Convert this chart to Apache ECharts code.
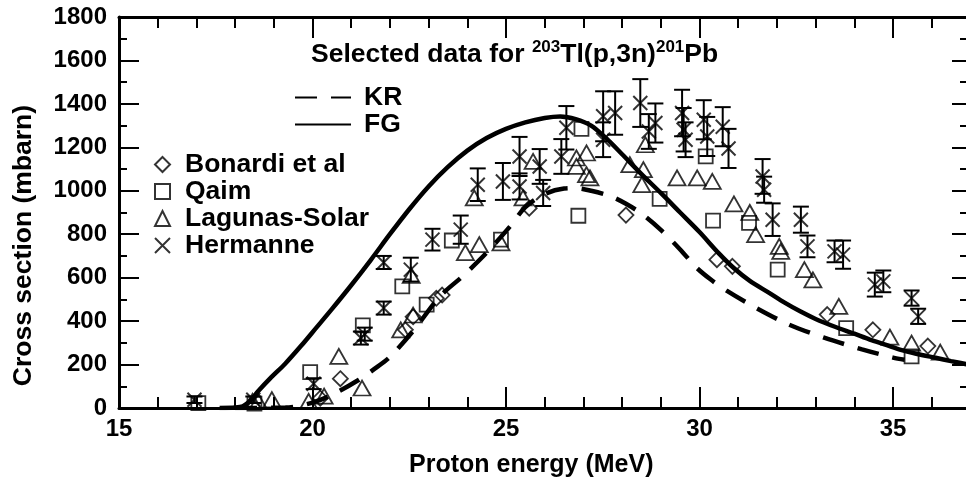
<!DOCTYPE html>
<html>
<head>
<meta charset="utf-8">
<script src="https://cdn.jsdelivr.net/npm/echarts@6/dist/echarts.min.js"></script>
<style>html,body{margin:0;padding:0;background:#fff}#c{width:966px;height:483px}</style>
</head>
<body>
<div id="c"></div>
<script>
// ---------- data ----------
const xTickLabels = [15, 20, 25, 30, 35];
const yTickLabels = [0, 200, 400, 600, 800, 1000, 1200, 1400, 1600, 1800];

const krE = [18.0, 19.3, 19.6, 20.0, 20.5, 21.2, 21.6, 22.0, 22.6, 23.3, 23.9, 24.5, 25.1, 25.5, 26.0, 26.5, 26.8, 27.2, 27.7, 28.1, 28.5, 29.0, 29.5, 29.9, 30.3, 30.7, 31.4, 32.3, 33.2, 34.2, 35.0, 35.3];
const krS = [0, 2, 8, 25, 60, 130, 180, 235, 355, 515, 610, 715, 835, 925, 985, 1010, 1012, 1000, 975, 940, 895, 820, 730, 650, 590, 540, 467, 385, 325, 270, 232, 222];

const fgE = [17.6, 18.0, 18.2, 18.4, 18.6, 18.9, 19.3, 19.7, 20.1, 20.5, 21.0, 21.5, 22.0, 22.5, 23.0, 23.5, 24.0, 24.5, 25.0, 25.5, 26.0, 26.4, 26.8, 27.2, 27.6, 28.0, 28.5, 29.0, 29.5, 30.0, 30.5, 30.9, 31.3, 31.8, 32.2, 32.6, 33.0, 33.5, 34.0, 34.4, 34.8, 35.2, 35.6, 36.1, 36.5, 37.0];
const fgS = [0, 2, 8, 35, 78, 135, 205, 285, 370, 455, 565, 680, 800, 915, 1020, 1110, 1185, 1243, 1285, 1315, 1335, 1342, 1330, 1300, 1240, 1168, 1077, 990, 900, 810, 712, 642, 585, 530, 485, 445, 410, 374, 342, 315, 292, 268, 250, 231, 216, 198];

const bonardiE = [20.2, 20.72, 22.4, 22.6, 23.2, 23.35, 25.6, 28.1, 30.45, 30.85, 33.3, 34.48, 35.9];
const bonardiS = [45, 135, 360, 420, 505, 520, 920, 888, 683, 652, 430, 360, 285];

const qaimE = [17.05, 18.5, 19.94, 21.3, 22.32, 22.95, 23.6, 24.87, 26.87, 26.95, 28.97, 30.16, 30.35, 31.28, 32.02, 33.79, 35.48];
const qaimS = [22, 20, 165, 380, 560, 476, 771, 775, 885, 1285, 963, 1158, 863, 852, 637, 368, 238];

const lagunasE = [18.45, 18.6, 18.95, 19.9, 20.3, 20.68, 21.28, 22.28, 22.55, 22.6, 23.95, 24.18, 24.31, 24.87, 25.44, 25.7, 26.82, 26.82, 27.08, 27.08, 27.17, 28.2, 28.51, 28.55, 28.6, 29.42, 29.94, 30.33, 30.89, 31.3, 31.45, 32.06, 32.1, 32.71, 32.93, 33.6, 34.92, 35.48, 36.22];
const lagunasS = [30, 30, 38, 30, 55, 238, 92, 360, 610, 428, 715, 967, 752, 760, 967, 1135, 1151, 1112, 1074, 1174, 1059, 1120, 1028, 1097, 1212, 1059, 1059, 1043, 940, 900, 798, 744, 721, 637, 590, 468, 326, 299, 257];

const hermanneE = [16.95, 18.47, 20.03, 21.25, 21.35, 21.84, 21.84, 22.54, 23.1, 23.83, 24.27, 24.92, 25.35, 25.35, 25.87, 25.96, 26.43, 26.56, 27.51, 27.82, 27.51, 28.47, 28.86, 28.69, 29.55, 29.59, 29.64, 30.11, 30.2, 30.6, 30.75, 31.63, 31.67, 31.89, 32.62, 32.79, 33.49, 33.71, 34.53, 34.75, 35.48, 35.65];
const hermanneS = [38, 38, 112, 322, 340, 460, 670, 637, 775, 821, 1028, 1043, 1158, 1020, 1112, 990, 1158, 1290, 1343, 1358, 1235, 1404, 1312, 1273, 1358, 1281, 1235, 1327, 1250, 1295, 1195, 1066, 1005, 867, 867, 744, 721, 706, 568, 583, 506, 422];
const hermanneErr = [15, 15, 25, 30, 30, 30, 30, 55, 50, 65, 75, 85, 90, 60, 80, 60, 80, 100, 115, 100, 80, 110, 90, 80, 107, 100, 80, 90, 90, 90, 90, 80, 60, 75, 60, 50, 50, 65, 55, 50, 35, 35];

// ---------- chart ----------
const F = 'Liberation Sans, Arial, Helvetica, sans-serif';
const zip = (a, b) => a.map((v, i) => [v, b[i]]);
const black = '#000';
const openStyle = { color: 'rgba(255,255,255,0)', borderColor: black, borderWidth: 1.8 };

const chart = echarts.init(document.getElementById('c'), null, { renderer: 'canvas' });

const xBase = {
  type: 'value', min: 15, max: 40, interval: 5,
  axisLine: { show: true, onZero: false, lineStyle: { color: black, width: 3 } },
  splitLine: { show: false },
  minorTick: { show: true, splitNumber: 5, length: 11, lineStyle: { color: black, width: 2 } },
  axisTick: { show: true, inside: true, length: 21, lineStyle: { color: black, width: 2 } }
};
const yBase = {
  type: 'value', min: 0, max: 1800, interval: 200,
  axisLine: { show: true, onZero: false, lineStyle: { color: black, width: 3 } },
  splitLine: { show: false },
  minorTick: { show: true, splitNumber: 2, length: 8, lineStyle: { color: black, width: 2 } },
  axisTick: { show: true, inside: true, length: 20, lineStyle: { color: black, width: 2 } }
};

const option = {
  backgroundColor: '#fff',
  animation: false,
  grid: { left: 119, top: 17, width: 967.5, height: 391, containLabel: false, outerBoundsMode: 'none' },
  xAxis: [
    Object.assign({}, xBase, {
      position: 'bottom',
      axisLabel: {
        fontFamily: F, fontSize: 24, fontWeight: 'bold', color: black, margin: 9,
        formatter: v => (xTickLabels.indexOf(v) >= 0 ? String(v) : '')
      }
    }),
    Object.assign({}, xBase, { position: 'top', axisLabel: { show: false } })
  ],
  yAxis: [
    Object.assign({}, yBase, {
      position: 'left',
      name: 'Cross section (mbarn)', nameLocation: 'middle', nameGap: 82,
      nameTextStyle: { fontFamily: F, fontSize: 26.5, fontWeight: 'bold', color: black, padding: [0, 66, 0, 0] },
      axisLabel: {
        fontFamily: F, fontSize: 24, fontWeight: 'bold', color: black, margin: 12,
        formatter: v => (yTickLabels.indexOf(v) >= 0 ? String(v) : '')
      }
    }),
    Object.assign({}, yBase, {
      position: 'right', offset: -118.5, axisLabel: { show: false },
      axisTick: { show: true, inside: true, length: 16, lineStyle: { color: black, width: 2 } }
    })
  ],
  legend: [
    {
      data: ['KR', 'FG'], orient: 'vertical', left: 294, top: 84,
      itemWidth: 56, itemHeight: 6, itemGap: 0, padding: 0,
      itemStyle: { color: 'rgba(0,0,0,0)', borderWidth: 0, opacity: 0 },
      textStyle: { fontFamily: F, fontSize: 26.5, fontWeight: 'bold', color: black, lineHeight: 23.5, padding: [0, 0, 0, 8] },
      selectedMode: false
    },
    {
      data: ['Bonardi et al', 'Qaim', 'Lagunas-Solar', 'Hermanne'], orient: 'vertical', left: 154, top: 151,
      itemWidth: 15, itemHeight: 15, itemGap: 0, padding: 0,
      textStyle: { fontFamily: F, fontSize: 26.5, fontWeight: 'bold', color: black, lineHeight: 27, padding: [0, 0, 0, 10] },
      selectedMode: false
    }
  ],
  graphic: [
    {
      type: 'text', left: 311, top: 39, silent: true,
      style: {
        text: '{a|Selected data for }{s|203}{a|Tl(p,3n)}{s|201}{a|Pb}',
        rich: {
          a: { fontFamily: F, fontSize: 26.5, fontWeight: 'bold', fill: black, lineHeight: 31 },
          s: { fontFamily: F, fontSize: 17, fontWeight: 'bold', fill: black, lineHeight: 19, verticalAlign: 'top' }
        }
      }
    },
    {
      type: 'text', left: 409, top: 453, silent: true,
      style: { text: 'Proton energy (MeV)', fontFamily: F, fontSize: 25, fontWeight: 'bold', fill: black }
    }
  ],
  series: [
    {
      name: 'KR', type: 'line', data: zip(krE, krS), smooth: 0.3, symbol: 'none',
      lineStyle: { color: black, width: 4.5, type: [22, 14] }, itemStyle: { color: black }, z: 3
    },
    {
      name: 'FG', type: 'line', data: zip(fgE, fgS), smooth: 0.3, symbol: 'none',
      lineStyle: { color: black, width: 4.5, type: 'solid' }, itemStyle: { color: black }, z: 3
    },
    {
      name: 'Bonardi et al', type: 'scatter', data: zip(bonardiE, bonardiS),
      symbol: 'diamond', symbolSize: 15, itemStyle: openStyle, z: 4
    },
    {
      name: 'Qaim', type: 'scatter', data: zip(qaimE, qaimS),
      symbol: 'rect', symbolSize: 14, itemStyle: openStyle, z: 4
    },
    {
      name: 'Lagunas-Solar', type: 'scatter', data: zip(lagunasE, lagunasS),
      symbol: 'triangle', symbolSize: [17, 15], itemStyle: openStyle, z: 4
    },
    {
      name: 'HermanneErr', type: 'custom', z: 4,
      data: hermanneE.map((e, i) => [e, hermanneS[i] - hermanneErr[i], hermanneS[i] + hermanneErr[i]]),
      encode: { x: 0, y: [1, 2] },
      renderItem: (params, api) => {
        const x = api.value(0);
        const lo = api.coord([x, api.value(1)]);
        const hi = api.coord([x, api.value(2)]);
        const w = 8;
        const st = { stroke: black, lineWidth: 2 };
        return {
          type: 'group', children: [
            { type: 'line', shape: { x1: lo[0], y1: lo[1], x2: hi[0], y2: hi[1] }, style: st },
            { type: 'line', shape: { x1: lo[0] - w, y1: lo[1], x2: lo[0] + w, y2: lo[1] }, style: st },
            { type: 'line', shape: { x1: hi[0] - w, y1: hi[1], x2: hi[0] + w, y2: hi[1] }, style: st }
          ]
        };
      }
    },
    {
      name: 'Hermanne', type: 'scatter', data: zip(hermanneE, hermanneS),
      symbol: 'path://M0,0L10,10M10,0L0,10', symbolSize: 14,
      itemStyle: { color: 'rgba(255,255,255,0)', borderColor: black, borderWidth: 2 }, z: 5
    }
  ]
};
chart.setOption(option);
</script>
</body>
</html>
